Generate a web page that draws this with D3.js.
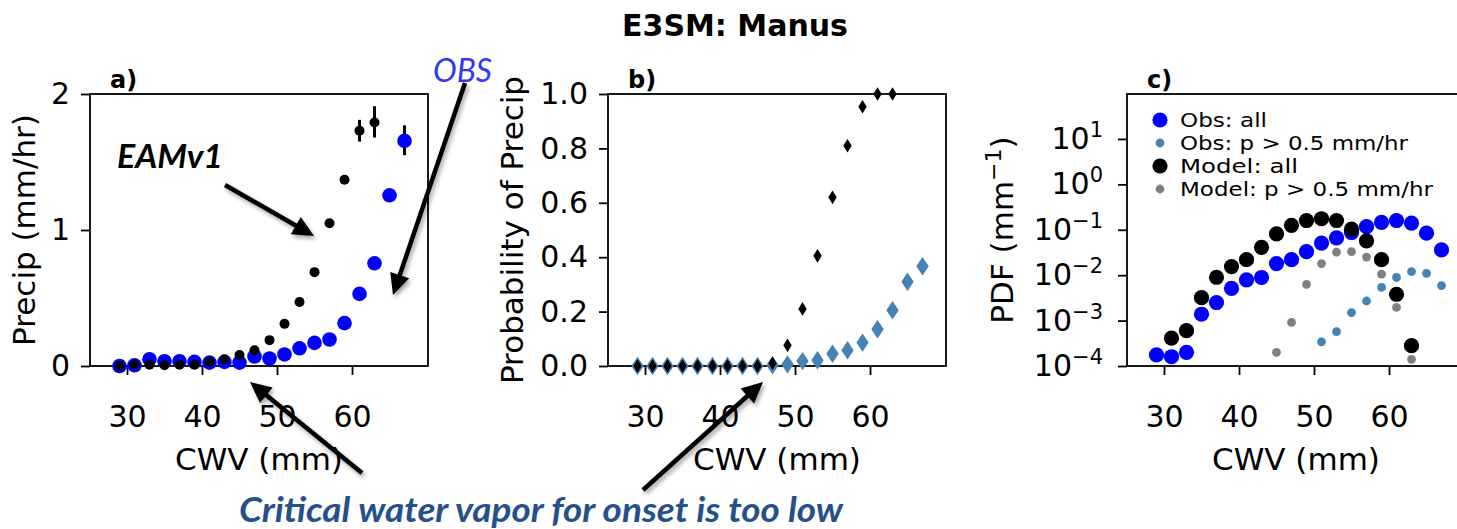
<!DOCTYPE html>
<html>
<head>
<meta charset="utf-8">
<script src="https://cdn.jsdelivr.net/npm/d3@7"></script>
<style>
  body { margin: 0; background: #fff; }
  svg { display: block; font-family: "DejaVu Sans", sans-serif; }
</style>
</head>
<body>
<div id="chart"></div>
<script>
// CWV bin centres (mm)
const cwvObs = [29, 31, 33, 35, 37, 39, 41, 43, 45, 47, 49, 51, 53, 55, 57, 59, 61, 63, 65, 67];
const cwvModel = [29, 31, 33, 35, 37, 39, 41, 43, 45, 47, 49, 51, 53, 55, 57, 59, 61, 63];

// a) mean precip (mm/hr)
const precipObs = [0, 0.005, 0.05, 0.035, 0.035, 0.03, 0.025, 0.03, 0.025, 0.07, 0.055, 0.085, 0.13, 0.17, 0.195, 0.315, 0.53, 0.755, 1.255, 1.655];
const precipModel = [0, 0.01, 0.01, 0.005, 0.01, 0.01, 0.03, 0.05, 0.08, 0.115, 0.19, 0.31, 0.47, 0.69, 1.05, 1.37, 1.73, 1.79];
const errObsCwv = [67], errObsLo = [1.55], errObsHi = [1.77];
const errModelCwv = [61, 63], errModelLo = [1.65, 1.68], errModelHi = [1.81, 1.91];

// b) probability of precip
const probObs = [0, 0, 0, 0, 0, 0, 0, 0, 0, 0.003, 0.006, 0.018, 0.021, 0.045, 0.058, 0.086, 0.135, 0.205, 0.31, 0.367];
const probModel = [0, 0, 0, 0, 0, 0, 0, 0, 0, 0.01, 0.076, 0.21, 0.405, 0.62, 0.81, 0.953, 1.0, 1.0];

// c) PDFs (mm^-1)
const pdfObsAll = [1.75e-4, 1.6e-4, 2.0e-4, 1.38e-3, 2.5e-3, 5.1e-3, 7.9e-3, 8.9e-3, 0.018, 0.022, 0.033, 0.051, 0.066, 0.087, 0.117, 0.145, 0.16, 0.14, 0.084, 0.036];
const cwvModelAll = [31, 33, 35, 37, 39, 41, 43, 45, 47, 49, 51, 53, 55, 57, 59, 61, 63];
const pdfModelAll = [4.1e-4, 6.0e-4, 3.2e-3, 9.0e-3, 0.0155, 0.022, 0.041, 0.081, 0.125, 0.16, 0.175, 0.16, 0.103, 0.057, 0.022, 3.8e-3, 2.8e-4];
const cwvObsHeavy = [51, 53, 55, 57, 59, 61, 63, 65, 67];
const pdfObsHeavy = [3.4e-4, 5.7e-4, 1.5e-3, 2.7e-3, 5.4e-3, 8.9e-3, 0.012, 0.011, 5.9e-3];
const cwvModelHeavy = [45, 47, 49, 51, 53, 55, 57, 59, 61, 63];
const pdfModelHeavy = [2.0e-4, 9.1e-4, 6.3e-3, 0.018, 0.032, 0.033, 0.025, 0.0105, 1.95e-3, 1.4e-4];

const xTicks = [30, 40, 50, 60];
const legendLabels = ["Obs: all", "Obs: p > 0.5 mm/hr", "Model: all", "Model: p > 0.5 mm/hr"];
const legendWidths = [87, 228, 118, 253];

const W = 1457, H = 529;
const pw = 338, ph = 272, plotTop = 94;

const svg = d3.select("#chart").append("svg")
    .attr("width", W)
    .attr("height", H);

svg.append("defs").append("filter")
    .attr("id", "shadow")
    .attr("x", "-20%").attr("y", "-20%").attr("width", "140%").attr("height", "140%")
    .append("feDropShadow")
    .attr("dx", 2).attr("dy", 3).attr("stdDeviation", 2)
    .attr("flood-color", "#000").attr("flood-opacity", 0.35);

svg.append("text")
    .attr("x", 735).attr("y", 36)
    .attr("text-anchor", "middle")
    .attr("font-size", 30).attr("font-weight", "bold")
    .text("E3SM: Manus");

const x = d3.scaleLinear().domain([25.067, 70.13]).range([0, pw]);

function zip(xs, ys) {
    return xs.map((v, i) => ({ x: v, y: ys[i] }));
}

function diamond(hw, hh) {
    return `M0,${-hh}L${hw},0L0,${hh}L${-hw},0Z`;
}

function styleAxis(a) {
    a.select(".domain").remove();
    a.selectAll(".tick line").attr("stroke", "#000").attr("stroke-width", 1.8);
    a.selectAll(".tick text")
        .attr("fill", "#000")
        .attr("font-size", 30)
        .attr("font-family", "DejaVu Sans, sans-serif");
}

function frame(g) {
    g.append("rect")
        .attr("width", pw).attr("height", ph)
        .attr("fill", "none")
        .attr("stroke", "#000")
        .attr("stroke-width", 1.8);
}

function makePanel(left, label, yLabel, labelX) {
    let g = svg.append("g").attr("transform", `translate(${left},${plotTop})`);

    g.append("text")
        .attr("x", 20).attr("y", -6)
        .attr("font-size", 24).attr("font-weight", "bold")
        .text(label);

    let xa = g.append("g")
        .attr("transform", `translate(0,${ph})`)
        .call(d3.axisBottom(x).tickValues(xTicks).tickSize(9).tickPadding(31));
    styleAxis(xa);

    g.append("text")
        .attr("x", pw / 2).attr("y", 470 - plotTop)
        .attr("text-anchor", "middle")
        .attr("font-size", 31)
        .text("CWV (mm)");

    let yl = g.append("text")
        .attr("transform", `translate(${labelX - left},${ph / 2}) rotate(-90)`)
        .attr("text-anchor", "middle")
        .attr("font-size", 31);
    yLabel.forEach(part => {
        yl.append("tspan")
            .attr("dy", part.dy || 0)
            .attr("font-size", part.size || null)
            .text(part.t);
    });

    return g;
}

// ---------- panel a ----------
const ya = d3.scaleLinear().domain([0, 2]).range([ph, 0]);
const ga = makePanel(90, "a)", [{ t: "Precip (mm/hr)" }], 35);
styleAxis(ga.append("g").call(d3.axisLeft(ya).tickValues([0, 1, 2]).tickFormat(d3.format("d")).tickSize(9).tickPadding(11)));
frame(ga);

ga.selectAll(".errObs")
    .data(errObsCwv.map((c, i) => ({ x: c, lo: errObsLo[i], hi: errObsHi[i] })))
    .enter().append("line")
    .attr("x1", d => x(d.x)).attr("x2", d => x(d.x))
    .attr("y1", d => ya(d.lo)).attr("y2", d => ya(d.hi))
    .attr("stroke", "#000").attr("stroke-width", 3);

ga.selectAll(".obs")
    .data(zip(cwvObs, precipObs))
    .enter().append("circle")
    .attr("cx", d => x(d.x)).attr("cy", d => ya(d.y))
    .attr("r", 7.3).attr("fill", "blue");

ga.selectAll(".errModel")
    .data(errModelCwv.map((c, i) => ({ x: c, lo: errModelLo[i], hi: errModelHi[i] })))
    .enter().append("line")
    .attr("x1", d => x(d.x)).attr("x2", d => x(d.x))
    .attr("y1", d => ya(d.lo)).attr("y2", d => ya(d.hi))
    .attr("stroke", "#000").attr("stroke-width", 3);

ga.selectAll(".model")
    .data(zip(cwvModel, precipModel))
    .enter().append("circle")
    .attr("cx", d => x(d.x)).attr("cy", d => ya(d.y))
    .attr("r", 5).attr("fill", "#000");

// ---------- panel b ----------
const yb = d3.scaleLinear().domain([0, 1]).range([ph, 0]);
const gb = makePanel(608, "b)", [{ t: "Probability of Precip" }], 523);
styleAxis(gb.append("g").call(d3.axisLeft(yb).ticks(5).tickFormat(d3.format(".1f")).tickSize(9).tickPadding(11)));
frame(gb);

gb.selectAll(".obs")
    .data(zip(cwvObs, probObs))
    .enter().append("path")
    .attr("d", diamond(6.2, 9.2))
    .attr("transform", d => `translate(${x(d.x)},${yb(d.y)})`)
    .attr("fill", "steelblue");

gb.selectAll(".model")
    .data(zip(cwvModel, probModel))
    .enter().append("path")
    .attr("d", diamond(4.2, 6.8))
    .attr("transform", d => `translate(${x(d.x)},${yb(d.y)})`)
    .attr("fill", "#000");

// ---------- panel c ----------
const yc = d3.scaleLog().domain([1e-4, Math.pow(10, 1.99)]).range([ph, 0]);
const gc = makePanel(1127, "c)", [{ t: "PDF (mm" }, { t: "\u22121", dy: -12, size: 22 }, { t: ")", dy: 12 }], 1013);
const yAxisC = gc.append("g").call(d3.axisLeft(yc).tickValues([1e-4, 1e-3, 1e-2, 1e-1, 1, 10]).tickSize(9).tickPadding(15));
styleAxis(yAxisC);
yAxisC.selectAll(".tick text").each(function (d) {
    let t = d3.select(this).text("");
    let e = Math.round(Math.log10(d));
    t.append("tspan").text("10");
    t.append("tspan")
        .attr("dy", -12)
        .attr("font-size", 21)
        .text(e < 0 ? "\u2212" + (-e) : "" + e);
});
frame(gc);

const series = [
    { xs: cwvObs, ys: pdfObsAll, color: "blue", r: 7.6 },
    { xs: cwvObsHeavy, ys: pdfObsHeavy, color: "steelblue", r: 4.4 },
    { xs: cwvModelAll, ys: pdfModelAll, color: "#000", r: 7.6 },
    { xs: cwvModelHeavy, ys: pdfModelHeavy, color: "gray", r: 4.4 }
];

series.forEach(s => {
    gc.append("g").selectAll("circle")
        .data(zip(s.xs, s.ys))
        .enter().append("circle")
        .attr("cx", d => x(d.x)).attr("cy", d => yc(d.y))
        .attr("r", s.r).attr("fill", s.color);
});

const legend = gc.append("g").attr("transform", "translate(33,26)");
series.forEach((s, i) => {
    legend.append("circle")
        .attr("cx", 0).attr("cy", i * 23)
        .attr("r", s.r).attr("fill", s.color);
    legend.append("text")
        .attr("x", 20).attr("y", i * 23 + 7)
        .attr("font-size", 19.5)
        .attr("textLength", legendWidths[i]).attr("lengthAdjust", "spacingAndGlyphs")
        .text(legendLabels[i]);
});

// ---------- annotations ----------
const arrows = [
    [225, 185, 314, 236],
    [465, 83, 393, 295],
    [362, 473, 250, 382],
    [643, 490, 763, 382]
];

arrows.forEach(a => {
    let [x1, y1, x2, y2] = a;
    let ang = Math.atan2(y2 - y1, x2 - x1);
    let hl = 21, hw = 10;
    let bx = x2 - hl * Math.cos(ang), by = y2 - hl * Math.sin(ang);
    let g = svg.append("g").attr("filter", "url(#shadow)");
    g.append("line")
        .attr("x1", x1).attr("y1", y1)
        .attr("x2", bx + 3 * Math.cos(ang)).attr("y2", by + 3 * Math.sin(ang))
        .attr("stroke", "#000").attr("stroke-width", 4.5);
    let px = -Math.sin(ang), py = Math.cos(ang);
    g.append("path")
        .attr("d", `M${x2},${y2}L${bx + hw * px},${by + hw * py}L${bx - hw * px},${by - hw * py}Z`)
        .attr("fill", "#000");
});

svg.append("text")
    .attr("x", 117).attr("y", 168)
    .attr("font-family", "Lato, 'Open Sans', sans-serif")
    .attr("font-size", 32).attr("font-weight", "bold").attr("font-style", "italic")
    .attr("textLength", 106).attr("lengthAdjust", "spacingAndGlyphs")
    .text("EAMv1");

svg.append("text")
    .attr("x", 433).attr("y", 82)
    .attr("font-family", "Lato, 'Open Sans', sans-serif")
    .attr("font-size", 32).attr("font-style", "italic")
    .attr("fill", "#3039ee")
    .attr("textLength", 59).attr("lengthAdjust", "spacingAndGlyphs")
    .text("OBS");

svg.append("text")
    .attr("x", 239).attr("y", 522)
    .attr("font-family", "Lato, 'Open Sans', sans-serif")
    .attr("font-size", 34).attr("font-weight", "bold").attr("font-style", "italic")
    .attr("fill", "#26508a")
    .attr("textLength", 604).attr("lengthAdjust", "spacingAndGlyphs")
    .text("Critical water vapor for onset is too low");
</script>
</body>
</html>
